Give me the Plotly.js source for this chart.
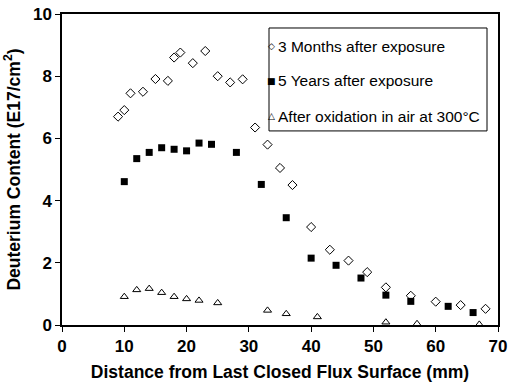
<!DOCTYPE html>
<html><head><meta charset="utf-8">
<script src="https://cdn.plot.ly/plotly-3.0.1.min.js"></script>
<style>body{margin:0}#c{width:512px;height:382px}</style>
</head><body><div id="c"></div>
<script>
var monthsX = [9,10,11,13,15,17,18,19,21,23,25,27,29,31,33,35,37,40,43,46,49,52,56,60,64,68];
var monthsY = [6.70,6.91,7.45,7.50,7.91,7.85,8.60,8.76,8.42,8.81,8.00,7.80,7.90,6.35,5.80,5.05,4.50,3.15,2.42,2.07,1.70,1.21,0.94,0.75,0.64,0.52];
var yearsX = [10,12,14,16,18,20,22,24,28,32,36,40,44,48,52,56,62,66];
var yearsY = [4.61,5.35,5.55,5.70,5.65,5.60,5.85,5.81,5.55,4.52,3.45,2.15,1.92,1.51,0.96,0.76,0.60,0.40];
var oxX = [10,12,14,16,18,20,22,25,33,36,41,52,57,67];
var oxY = [0.91,1.13,1.17,1.04,0.91,0.84,0.79,0.71,0.47,0.36,0.26,0.09,0.04,0.02];
var names = ['3 Months after exposure','5 Years after exposure','After oxidation in air at 300°C'];
var legendGlyphs = ['◇','■','△'];

var traces = [
 {x:monthsX,y:monthsY,name:names[0],mode:'markers',type:'scatter',
  marker:{symbol:'diamond-open',size:7,color:'#000',line:{width:1}}},
 {x:yearsX,y:yearsY,name:names[1],mode:'markers',type:'scatter',
  marker:{symbol:'square',size:7,color:'#000'}},
 {x:oxX,y:oxY,name:names[2],mode:'markers',type:'scatter',
  marker:{symbol:'triangle-up-open',size:7,color:'#000',line:{width:1}}}
];
var ff = 'Liberation Sans, Arial, sans-serif';
var tickFont = {family:ff,size:17,color:'#000',weight:'bold'};
var titleFont = {family:ff,size:17.5,color:'#000',weight:'bold'};

// custom legend (box + glyph + label)
var legY = [0.897,0.785,0.672];
var annotations = [];
names.forEach(function(n,i){
  annotations.push({xref:'paper',yref:'paper',x:0.4805,y:legY[i],xanchor:'center',yanchor:'middle',
    text:legendGlyphs[i],showarrow:false,font:{family:'DejaVu Sans',size:i===1?9:9,color:'#000'}});
  annotations.push({xref:'paper',yref:'paper',x:0.4915,y:legY[i],xanchor:'left',yanchor:'middle',
    text:n,showarrow:false,font:{family:ff,size:15.5,color:'#000'}});
});
var layout = {
 width:512,height:382,
 margin:{l:62,r:14,t:14,b:57},
 paper_bgcolor:'#fff',plot_bgcolor:'#fff',
 showlegend:false,
 annotations:annotations,
 shapes:[{type:'rect',xref:'paper',yref:'paper',x0:0.4748,x1:0.9748,y0:0.624,y1:0.955,
   line:{color:'#000',width:1},fillcolor:'rgba(0,0,0,0)'}],
 xaxis:{range:[0,70],dtick:10,tick0:0,showgrid:false,zeroline:false,showline:true,linecolor:'#000',linewidth:1.5,
   mirror:true,ticks:'outside',ticklen:5,tickcolor:'#000',
   tickfont:tickFont,
   title:{text:'Distance from Last Closed Flux Surface (mm)',font:titleFont,standoff:11}},
 yaxis:{range:[0,10],dtick:2,tick0:0,showgrid:false,zeroline:false,showline:true,linecolor:'#000',linewidth:1.5,
   mirror:true,ticks:'outside',ticklen:5,tickcolor:'#000',
   tickfont:tickFont,
   title:{text:'Deuterium Content (E17/cm<sup>2</sup>)',font:titleFont,standoff:8}}
};
Plotly.newPlot('c',traces,layout,{displayModeBar:false});
</script></body></html>
